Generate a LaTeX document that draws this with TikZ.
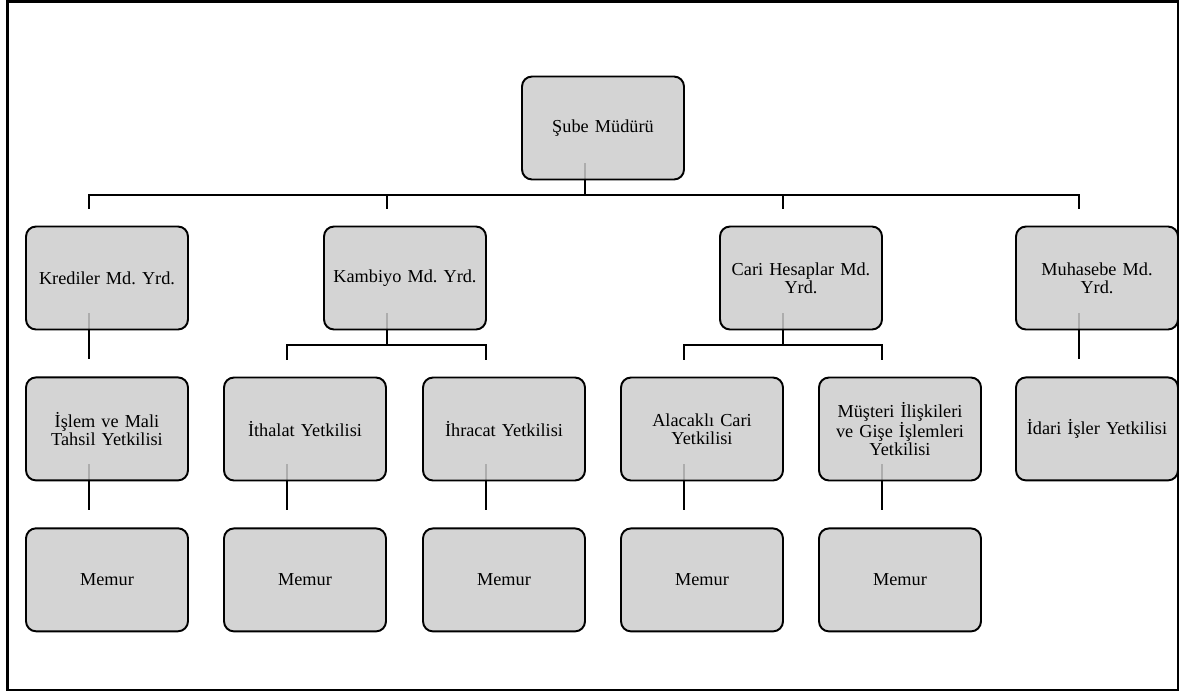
\documentclass[tikz,border=0pt]{standalone}
\usepackage{fontspec}
\setmainfont{Liberation Serif}
\usepackage{tikz}
\usetikzlibrary{positioning, calc, backgrounds}
\frenchspacing
\hyphenpenalty=10000
\exhyphenpenalty=10000

\begin{document}
\begin{tikzpicture}[
    x=0.02cm, y=-0.02cm,
    node distance=0.92cm,
    block/.style={rectangle, draw=black, line width=1.1pt, fill=black!20, fill opacity=0.85, text opacity=1, text width=2.88cm, align=center, minimum width=3.24cm, minimum height=2.06cm, rounded corners=0.2cm, font=\fontsize{10.4pt}{10.2pt}\selectfont},
    link/.style={line width=1.1pt, black}
]
\useasboundingbox (0,0) rectangle (1180,693);

% Nodes
\node (sube) [block] at (603,128) {Şube Müdürü};
\node (kredi) [block] at (107,278) {Krediler Md. Yrd.};
\node (kambiyo) [block] at (405,278) {Kambiyo Md. Yrd.};
\node (cari) [block] at (801,278) {Cari Hesaplar Md.\\ Yrd.};
\node (muhasebe) [block] at (1097,278) {Muhasebe Md.\\ Yrd.};

\node (islem) [block, below=of kredi] {İşlem ve Mali\\ Tahsil Yetkilisi};
\node (ithalat) [block] at (305,429) {İthalat Yetkilisi};
\node (ihracat) [block] at (504,429) {İhracat Yetkilisi};
\node (alacakli) [block] at (702,429) {Alacaklı Cari\\ Yetkilisi};
\node (musteri) [block] at (900,429) {Müşteri İlişkileri\\ ve Gişe İşlemleri\\ Yetkilisi};
\node (idari) [block, below=of muhasebe] {İdari İşler Yetkilisi};

\node (memurA) [block, below=of islem] {Memur};
\node (memurB) [block, below=of ithalat] {Memur};
\node (memurC) [block, below=of ihracat] {Memur};
\node (memurD) [block, below=of alacakli] {Memur};
\node (memurE) [block, below=of musteri] {Memur};

% Frame
\draw[line width=1.3pt] (7.5,1.5) rectangle (1178,690);

% Paths
\begin{scope}[on background layer]
\foreach \p/\c in {sube/kredi, sube/kambiyo, sube/cari, sube/muhasebe,
                   kredi/islem, kambiyo/ithalat, kambiyo/ihracat, cari/alacakli, cari/musteri, muhasebe/idari,
                   islem/memurA, ithalat/memurB, ihracat/memurC, alacakli/memurD, musteri/memurE}
  \draw [link] ($(\p.south)+(-18,-17)$) -- ($(\p.south)+(-18,15)$) -| ($(\c.north)+(-18,-17)$);
\end{scope}

\end{tikzpicture}
\end{document}
